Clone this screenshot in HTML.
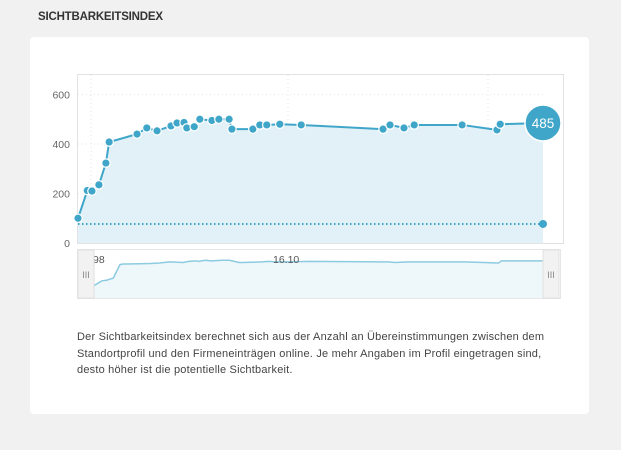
<!DOCTYPE html>
<html><head><meta charset="utf-8"><style>
body{margin:0;width:621px;height:450px;background:#f1f1f1;font-family:"Liberation Sans",sans-serif;position:relative;overflow:hidden}
.title{position:absolute;left:38px;top:11px;font-size:11.5px;font-weight:bold;color:#333;letter-spacing:-0.2px}
.card{position:absolute;left:30px;top:37px;width:559px;height:377px;background:#fff;border-radius:4px}
.desc{position:absolute;left:77px;top:329px;width:482px;font-size:11px;line-height:16.5px;color:#444;letter-spacing:0.2px}
svg{position:absolute;left:0;top:0}
</style></head><body>
<div class="title">SICHTBARKEITSINDEX</div>
<div class="card"></div>
<svg id="chart" width="621" height="450"></svg>
<div class="desc">Der Sichtbarkeitsindex berechnet sich aus der Anzahl an Übereinstimmungen zwischen dem Standortprofil und den Firmeneinträgen online. Je mehr Angaben im Profil eingetragen sind, desto höher ist die potentielle Sichtbarkeit.</div>
<script>
const days=[0,2,3,4.5,6,6.7,12.7,14.8,17,20,21.3,22.8,23.4,25,26.2,28.8,30.3,32.5,33.1,37.6,39.1,40.6,43.4,48,65.6,67.1,70.1,72.3,82.6,90.1,90.8,100];
const values=[100,212,210,235,323,408,440,465,453,473,485,487,465,470,500,495,500,500,460,460,477,477,480,477,460,477,465,477,477,457,480,485];
const baseline=77;
const yTicks=[0,200,400,600];
const navValues=[40,60,62,70,120,122,124,126,130,128,132,134,132,136,134,136,136,128,128,130,132,130,130,132,130,128,130,130,130,126,134,134];
const NS='http://www.w3.org/2000/svg';
const svg=document.getElementById('chart');
const X=d=>78+d*4.65, Y=v=>243-v*0.2475;
function el(t,a){const e=document.createElementNS(NS,t);for(const k in a)e.setAttribute(k,a[k]);svg.appendChild(e);return e;}
let r=el('rect',{x:77.5,y:74.5,width:486,height:169,fill:'#fff',stroke:'#e2e2e2'});


yTicks.forEach(t=>{
 if(t>0){let g=el('line',{x1:78,x2:543,y1:Y(t),y2:Y(t),stroke:'#e6e6e6','stroke-dasharray':'1,3'});
 
 }
 let tx=el('text',{x:70,y:Y(t)+4,'text-anchor':'end','font-size':'10.5',fill:'#666','font-family':'Liberation Sans'});
 tx.textContent=t;
 
 
});
let vg=el('line',{x1:91,x2:91,y1:75,y2:243,stroke:'#e6e6e6','stroke-dasharray':'1,3'});


let vg2=el('line',{x1:288,x2:288,y1:75,y2:243,stroke:'#e6e6e6','stroke-dasharray':'1,3'});


let vg3=el('line',{x1:488,x2:488,y1:75,y2:243,stroke:'#e6e6e6','stroke-dasharray':'1,3'});


let pts=days.map((d,i)=>[X(d),Y(values[i])]);
let area=el('path',{d:'M'+X(0)+','+Y(0)+pts.map(p=>'L'+p[0]+','+p[1]).join('')+'L'+X(100)+','+Y(0)+'Z',fill:'#e2f1f7'});


let bl=el('line',{x1:X(0),x2:X(100),y1:Y(baseline),y2:Y(baseline),stroke:'#3fa6c9','stroke-width':2,'stroke-dasharray':'1.5,2.5'});


let ln=el('polyline',{points:pts.map(p=>p.join(',')).join(' '),fill:'none',stroke:'#3fa6c9','stroke-width':2});


pts.slice(0,-1).forEach(p=>{let c=el('circle',{cx:p[0],cy:p[1],r:4.2,fill:'#3fa6c9',stroke:'#fff','stroke-width':1.2});
 
 });
let bd=el('circle',{cx:X(100),cy:Y(baseline),r:4,fill:'#3fa6c9'});


const last=pts[pts.length-1];
let bc=el('circle',{cx:last[0],cy:last[1],r:18,fill:'#3fa6c9',stroke:'#fff','stroke-width':1.5});


let bt=el('text',{x:last[0],y:last[1]+5,'text-anchor':'middle','font-size':'13.5',fill:'#fff','font-family':'Liberation Sans'});
bt.textContent=values[values.length-1];


let nb=el('rect',{x:77.5,y:249.5,width:483,height:49,fill:'#fff',stroke:'#e6e6e6'});


const NX=d=>93+d*4.5, NY=v=>297-v*0.27;
let npts=days.map((d,i)=>[NX(d),NY(navValues[i])]);
let na=el('path',{d:'M'+NX(0)+',298'+npts.map(p=>'L'+p[0]+','+p[1]).join('')+'L'+NX(100)+',298Z',fill:'#eef7fa'});


let nl=el('polyline',{points:npts.map(p=>p.join(',')).join(' '),fill:'none',stroke:'#8ccbe0','stroke-width':1.5});


[['98',93],['16.10',273]].forEach(([t,x])=>{let tx=el('text',{x:x,y:263,'font-size':'10.5',fill:'#555','font-family':'Liberation Sans'});
 tx.textContent=t;
 
 });
[[78,'left'],[543,'right']].forEach(([x,s])=>{let h=el('rect',{x:x,y:250,width:16,height:48,fill:'#f2f2f2',stroke:'#e0e0e0'});
 
 
 let t=el('text',{x:x+8,y:278,'text-anchor':'middle','font-size':'9',fill:'#888','font-family':'Liberation Sans'});t.textContent='III';
 
 });
</script>
</body></html>
